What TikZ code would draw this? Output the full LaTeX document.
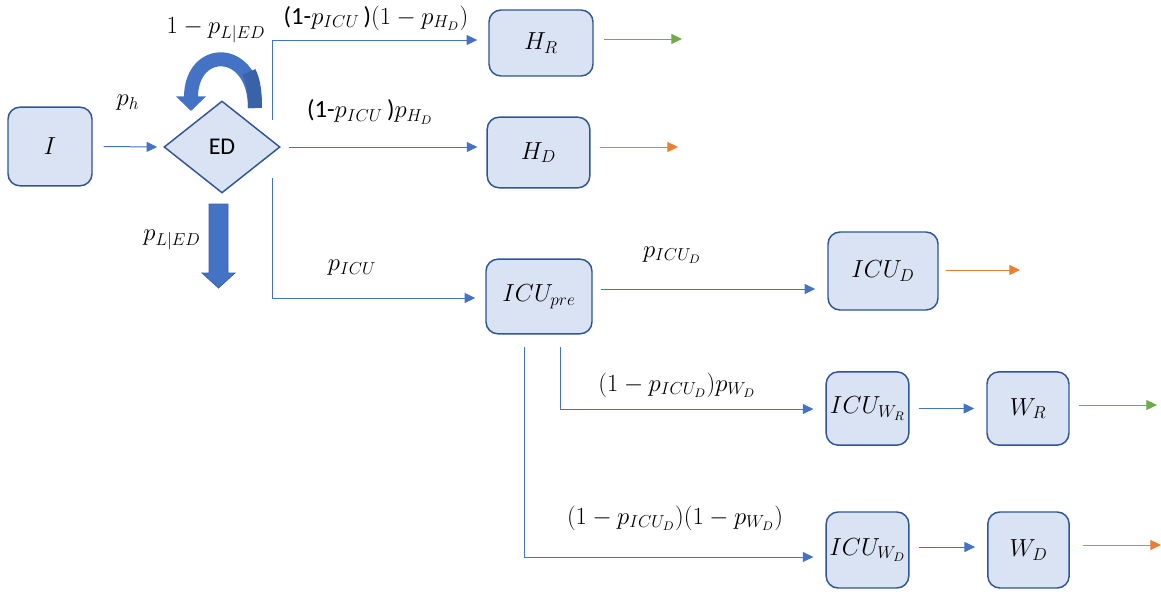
\RequirePackage{fix-cm}
\documentclass[tikz,border=0pt]{standalone}
\usepackage{fontspec}
\newfontfamily\calfont{Carlito}
\usetikzlibrary{arrows.meta,shapes.geometric,calc}
\definecolor{boxfill}{HTML}{DAE3F3}
\definecolor{boxline}{HTML}{2F5597}
\definecolor{lineblue}{HTML}{4472C4}
\definecolor{darkblue}{HTML}{3A62A8}
\definecolor{arrgreen}{HTML}{70AD47}
\definecolor{arrorange}{HTML}{ED7D31}
\begin{document}
\begin{tikzpicture}[x=0.75pt,y=-0.75pt,
  box/.style={draw=boxline,fill=boxfill,line width=1.1pt,rounded corners=9pt,inner sep=0pt,
    font=\fontsize{18.5}{22}\selectfont},
  lbl/.style={inner sep=0pt,font=\fontsize{18.5}{22}\selectfont},
  conn/.style={draw=lineblue,line width=0.75pt,-{Triangle[length=8pt,width=7.5pt]},color=lineblue},
  outg/.style={draw=arrgreen,line width=0.75pt,-{Triangle[length=8pt,width=7.5pt]},color=arrgreen},
  outo/.style={draw=arrorange,line width=0.75pt,-{Triangle[length=8pt,width=7.5pt]},color=arrorange}]
\useasboundingbox (0,0) rectangle (1161,596);

% boxes
\node[box,minimum width=63pt,minimum height=59pt] (I) at (50,146.5) {$I$};
\node[diamond,draw=boxline,fill=boxfill,line width=1.1pt,inner sep=0pt,
  minimum width=87pt,minimum height=69pt,font=\calfont\fontsize{18}{21}\selectfont] (ED) at (222,147) {ED};
\node[box,minimum width=78pt,minimum height=49.5pt] (HR) at (541,43) {$H_R$};
\node[box,minimum width=77pt,minimum height=53pt] (HD) at (538.5,152.5) {$H_D$};
\node[box,minimum width=79.5pt,minimum height=56pt] (ICUpre) at (539,296.5) {$ICU_{pre}$};
\node[box,minimum width=82.5pt,minimum height=58.5pt] (ICUD) at (883,271) {$ICU_D$};
\node[box,minimum width=62pt,minimum height=55pt] (ICUWR) at (867.5,408.5) {$ICU_{W_R}$};
\node[box,minimum width=61.5pt,minimum height=55pt] (WR) at (1028,408.5) {$W_R$};
\node[box,minimum width=62pt,minimum height=57pt] (ICUWD) at (867.5,550) {$ICU_{W_D}$};
\node[box,minimum width=61pt,minimum height=57pt] (WD) at (1028.5,550) {$W_D$};

% labels
\node[lbl] (lph) at (128,103) {$p_h$};
\node[lbl] (lloop) at (216,30) {$1-p_{L|ED}$};
\node[lbl] (lloss) at (172,240) {$p_{L|ED}$};
\node[lbl] (lHR) at (376,18) {{\calfont(1-}$p_{ICU}$\,{\calfont)}$(1-p_{H_D})$};
\node[lbl] (lHD) at (370,112) {{\calfont(1-}$p_{ICU}$\,{\calfont)}$p_{H_D}$};
\node[lbl] (lICU) at (352,268) {$p_{ICU}$};
\node[lbl] (lICUD) at (672,255) {$p_{ICU_D}$};
\node[lbl] (lWR) at (677,385) {$(1-p_{ICU_D})p_{W_D}$};
\node[lbl] (lWD) at (675,518) {$(1-p_{ICU_D})(1-p_{W_D})$};

% free-end coordinates
\coordinate (c1) at (272,120);
\coordinate (c2) at (272,178);
\coordinate (c3) at (560,347);
\coordinate (c4) at (524,347);
\coordinate (oHR) at (682,39);
\coordinate (oHD) at (678,147);
\coordinate (oICUD) at (1020,270);
\coordinate (oWR) at (1157,405);
\coordinate (oWD) at (1161,545);

% connectors
\draw[conn] ($(I.east)+(11,0)$) -- ($(ED.west)+(-6,0)$);
\draw[conn] (c1) |- ($(HR.west)+(-11,-3)$);
\draw[conn] ($(ED.east)+(8,0)$) -- ($(HD.west |- ED.east)+(-9,0)$);
\draw[conn] (c2) |- ($(ICUpre.west)+(-10,1.5)$);
\draw[conn] ($(ICUpre.east)+(8,-7.5)$) -- ($(ICUD.west |- ICUpre.east)+(-12,-7.5)$);
\draw[conn] (c3) |- ($(ICUWR.west)+(-12,0.5)$);
\draw[conn] (c4) |- ($(ICUWD.west)+(-12,7)$);
\draw[conn] ($(ICUWR.east)+(9,0)$) -- ($(WR.west)+(-12,0)$);
\draw[conn] ($(ICUWD.east)+(9,-3)$) -- ($(WD.west)+(-12,-3)$);
\draw[outg] ($(HR.east)+(10,-4)$) -- (oHR);
\draw[outo] ($(HD.east |- ED.east)+(9,0)$) -- (oHD);
\draw[outo] ($(ICUD.east)+(7,-1)$) -- (oICUD);
\draw[outg] ($(WR.east)+(9,-3.5)$) -- (oWR);
\draw[outo] ($(WD.east)+(13,-5)$) -- (oWD);

% self loop on ED (thick curved arrow)
\draw[draw=lineblue,line width=10.5pt,-{Triangle[length=11pt,width=22pt]}]
  (255,108) .. controls (255,45) and (191,45) .. (191,111);
\draw[draw=darkblue,line width=10.5pt] (255,108) .. controls (255,90) and (253,80) .. (249,72);
% loss arrow (thick down arrow)
\filldraw[fill=lineblue,draw=darkblue,line width=0.6pt]
  (209,204) -- (228,204) -- (228,273) -- (235,273) -- (218.5,288) -- (202,273) -- (209,273) -- cycle;
\end{tikzpicture}
\end{document}
